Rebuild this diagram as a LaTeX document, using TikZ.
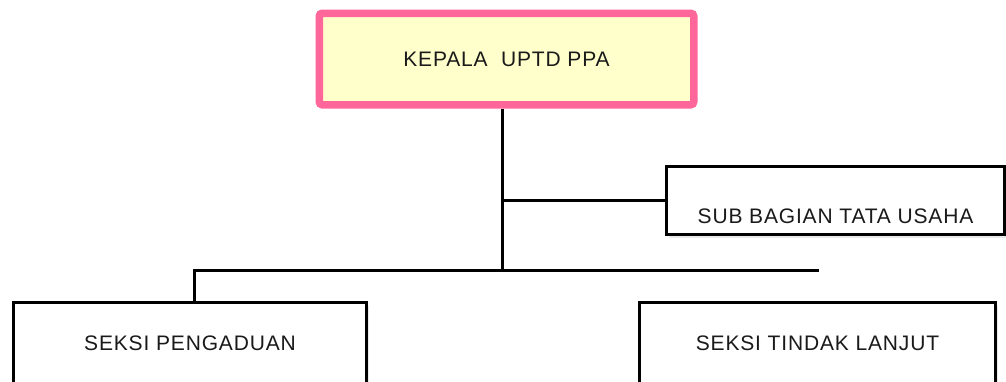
\documentclass[tikz,border=0pt]{standalone}
\usepackage{fontspec}
\setmainfont{Liberation Sans}[LetterSpace=4]
\usetikzlibrary{shadows}
\definecolor{pinkline}{RGB}{255,102,153}
\definecolor{paleyellow}{RGB}{255,255,204}
\definecolor{txt}{RGB}{26,26,26}
\tikzset{
  lbl/.style={font=\fontsize{21}{25}\selectfont, text=txt},
  headbox/.style={lbl, draw=pinkline, line width=7.5pt, fill=paleyellow, rounded corners=3pt,
    inner sep=0pt, drop shadow={shadow xshift=2pt, shadow yshift=-3pt, opacity=0.25, fill=gray}},
  unitbox/.style={lbl, draw=black, line width=3pt, fill=white, inner sep=0pt,
    drop shadow={shadow xshift=2pt, shadow yshift=-3pt, opacity=0.18, fill=gray}},
  conn/.style={draw=black, line width=3pt}
}
\begin{document}
\begin{tikzpicture}[x=1pt, y=-1pt]
\useasboundingbox[fill=white] (0,0) rectangle (1006,381);
\node[headbox, minimum width=374.5pt, minimum height=91.5pt] (top) at (506.5,59) {KEPALA\ \ UPTD PPA};
\node[unitbox, minimum width=338pt, minimum height=68pt, text height=45pt, text depth=0pt] (sub) at (835.5,200.5) {SUB BAGIAN TATA USAHA};
\node[unitbox, minimum width=353pt, minimum height=81.5pt] (peng) at (190,343.25) {SEKSI PENGADUAN};
\node[unitbox, minimum width=356pt, minimum height=81.5pt] (tind) at (817.5,343.25) {SEKSI TINDAK LANJUT};
\coordinate (j1) at (502,270);
\coordinate (busL) at (194,270);
\coordinate (busR) at (819,270);
\draw[conn] (top.south -| j1) -- (j1);
\draw[conn] (j1 |- sub.west) -- (sub.west);
\draw[conn] (busR) -- (busL) -- (busL |- peng.north);
\end{tikzpicture}
\end{document}
